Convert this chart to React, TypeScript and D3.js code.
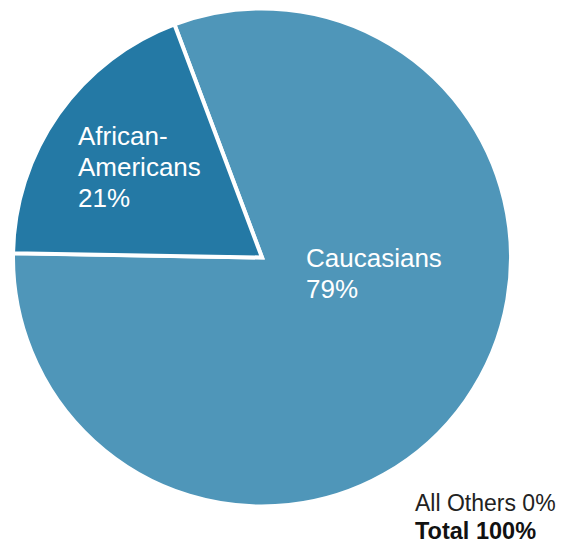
import React from "react";
import * as d3 from "d3";

const categories = ["Caucasians", "African-Americans"];
const shares = [81, 19]; // slice sizes as drawn
const labelLines = [["Caucasians", "79%"], ["African-", "Americans", "21%"]];
const colors = ["#4f96b9", "#2479a5"];
const footnotes = ["All Others 0%", "Total 100%"];

const W = 566, H = 544;
const cx = 262, cy = 257.5, R = 249;
const startDeg = -20.6;

export default function App() {
  const pie = d3.pie<number>().sort(null).value(d => d)
    .startAngle((startDeg * Math.PI) / 180)
    .endAngle((startDeg * Math.PI) / 180 + 2 * Math.PI);
  const arcs = pie(shares);
  const arc = d3.arc<d3.PieArcDatum<number>>().innerRadius(0).outerRadius(R);
  const labelPos = [
    { x: 306, y: 267 },
    { x: 78, y: 145 },
  ];
  const font = "'Liberation Sans', Arial, Helvetica, sans-serif";
  return (
    <svg width={W} height={H} style={{ position: "absolute", left: 0, top: 0 }}>
      <g transform={`translate(${cx},${cy})`}>
        {arcs.map((a, i) => (
          <path key={categories[i]} d={arc(a) || ""} fill={colors[i]} stroke="#fff" strokeWidth={4} strokeLinejoin="miter" />
        ))}
      </g>
      {labelLines.map((lines, i) => (
        <text key={i} x={labelPos[i].x} y={labelPos[i].y} fill="#fff" fontFamily={font} fontSize={26}>
          {lines.map((l, j) => (
            <tspan key={j} x={labelPos[i].x} dy={j === 0 ? 0 : 31}>{l}</tspan>
          ))}
        </text>
      ))}
      <text x={415} y={511} fill="#222" fontFamily={font} fontSize={23}>{footnotes[0]}</text>
      <text x={415} y={539} fill="#111" fontFamily={font} fontSize={23.5} fontWeight="bold">{footnotes[1]}</text>
    </svg>
  );
}
